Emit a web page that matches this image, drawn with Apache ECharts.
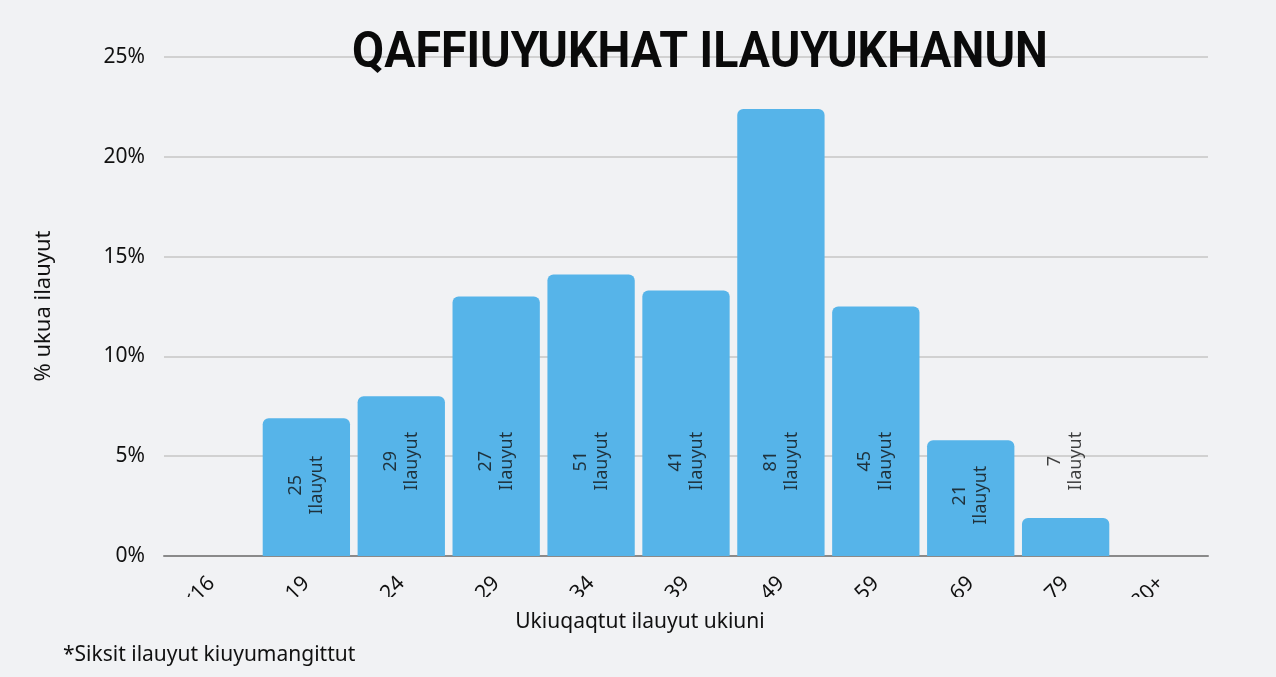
<!DOCTYPE html>
<html>
<head>
<meta charset="utf-8">
<script src="https://cdn.jsdelivr.net/npm/echarts@6/dist/echarts.min.js"></script>
<style>
  html, body { margin: 0; padding: 0; background: #f1f2f4; }
  #chart { width: 1276px; height: 677px; }
</style>
</head>
<body>
<div id="chart"></div>
<script>
// age groups (only the tail of each label shows in the original, the rest is clipped)
const AGE_GROUPS = ["<16", "16-19", "20-24", "25-29", "30-34", "35-39", "40-49", "50-59", "60-69", "70-79", "80+"];
// share of respondents, percent
const SHARE = [0, 6.9, 8.0, 13.0, 14.1, 13.3, 22.4, 12.5, 5.8, 1.9, 0];
// respondent counts printed in each bar
const COUNTS = [null, 25, 29, 27, 51, 41, 81, 45, 21, 7, null];
// where (in % units) the count label is centred
const LABEL_AT = [null, 3.55, 4.75, 4.75, 4.75, 4.75, 4.75, 4.75, 3.05, 4.75, null];

const TITLE = "QAFFIUYUKHAT ILAUYUKHANUN";
const Y_NAME = "% ukua ilauyut";
const X_NAME = "Ukiuqaqtut ilauyut ukiuni";
const FOOTNOTE = "*Siksit ilauyut kiuyumangittut";

const BG = "#f1f2f4";
const BAR = "#56b4e9";
const FONT = "'Noto Sans', sans-serif";

const chart = echarts.init(document.getElementById("chart"), null, { renderer: "canvas" });

chart.setOption({
  backgroundColor: BG,
  animation: false,
  grid: { left: 164, right: 68, top: 57, bottom: 121, containLabel: false },
  xAxis: {
    type: "category",
    data: AGE_GROUPS,
    axisTick: { show: false },
    axisLine: { lineStyle: { color: "#8a8a8a", width: 2 } },
    axisLabel: {
      rotate: 45,
      margin: 24,
      color: "#111",
      fontFamily: FONT,
      fontSize: 21,
      interval: 0,
    },
  },
  yAxis: {
    type: "value",
    min: 0,
    max: 25,
    interval: 5,
    axisLine: { show: false },
    axisTick: { show: false },
    axisLabel: {
      margin: 19,
      color: "#111",
      fontFamily: FONT,
      fontSize: 21,
      formatter: (v) => `${v}%`,
    },
    splitLine: { lineStyle: { color: "#c6c6c6", width: 1.5 } },
  },
  series: [
    {
      type: "bar",
      data: SHARE,
      barWidth: "92%",
      itemStyle: { color: BAR, borderRadius: [6, 6, 0, 0] },
      z: 2,
    },
    {
      type: "scatter",
      data: LABEL_AT,
      symbolSize: 0,
      silent: true,
      z: 3,
      label: {
        show: true,
        position: "inside",
        rotate: 90,
        align: "center",
        verticalAlign: "middle",
        color: "#111",
        fontFamily: FONT,
        fontSize: 18,
        lineHeight: 21,
        formatter: (p) => (COUNTS[p.dataIndex] == null ? "" : `${COUNTS[p.dataIndex]}\nIlauyut`),
      },
    },
  ],
  graphic: [
    // mask that clips the rotated age labels, as in the original
    { type: "rect", left: 0, top: 597, shape: { width: 1276, height: 80 }, style: { fill: BG }, z: 100 },
    {
      type: "text",
      x: 700,
      y: 54,
      scaleX: 0.93,
      originX: 0,
      z: 101,
      style: {
        text: TITLE,
        fill: "#0a0a0a",
        font: "bold 50px Roboto, sans-serif",
        textAlign: "center",
        textVerticalAlign: "middle",
      },
    },
    {
      type: "text",
      x: 44,
      y: 306,
      rotation: Math.PI / 2,
      z: 101,
      style: {
        text: Y_NAME,
        fill: "#111",
        font: `22px ${FONT}`,
        textAlign: "center",
        textVerticalAlign: "middle",
      },
    },
    {
      type: "text",
      x: 640,
      y: 622,
      z: 101,
      style: {
        text: X_NAME,
        fill: "#111",
        font: `21px ${FONT}`,
        textAlign: "center",
        textVerticalAlign: "middle",
      },
    },
    {
      type: "text",
      x: 63,
      y: 655,
      z: 101,
      style: {
        text: FOOTNOTE,
        fill: "#111",
        font: `21px ${FONT}`,
        textAlign: "left",
        textVerticalAlign: "middle",
      },
    },
  ],
});
</script>
</body>
</html>
